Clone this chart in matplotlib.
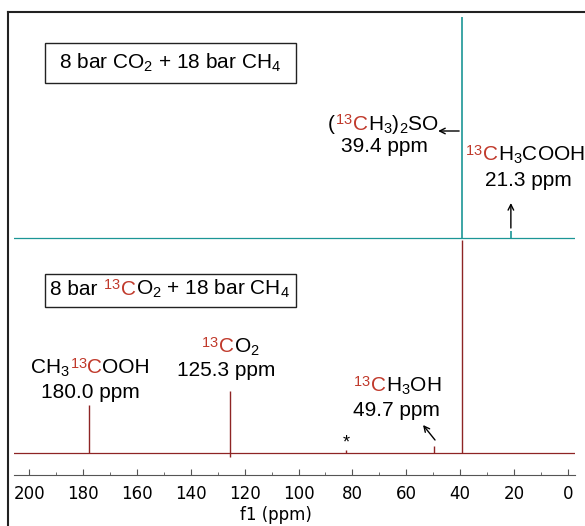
import matplotlib
matplotlib.use("Agg")
import matplotlib.pyplot as plt
import numpy as np
from matplotlib.lines import Line2D
from matplotlib.patches import Rectangle
from matplotlib.offsetbox import TextArea, HPacker, AnnotationBbox

plt.rcParams['mathtext.fontset'] = 'custom'
plt.rcParams['mathtext.rm'] = 'Liberation Sans'
plt.rcParams['mathtext.it'] = 'Liberation Sans'
plt.rcParams['mathtext.default'] = 'regular'

# data: peak positions (ppm) and heights (a.u.)
red_ppm = [177.8, 125.3, 82.4, 49.7, 39.3]
red_height = [48, 62, 3, 7, 213]
teal_ppm = [39.3, 21.2]
teal_height = [221, 7]
teal_offset = 215
ticks = [200, 180, 160, 140, 120, 100, 80, 60, 40, 20, 0]

teal = '#1b9696'
dred = '#8e2424'
tred = '#c0392b'
lab = 'Liberation Sans'

fig = plt.figure(figsize=(5.85, 5.26), dpi=100)
ax = fig.add_axes([14 / 585, 51 / 526, 561 / 585, 463 / 526])
ax.set_xlim(205.6, -2.6)
ax.set_ylim(-22, 441)

# spectra (baseline + sticks)
ax.axhline(0, color=dred, lw=0.9)
ax.vlines(red_ppm, 0, red_height, color=dred, lw=1.0)
ax.vlines(125.3, -4, 0, color=dred, lw=1.0)
ax.axhline(teal_offset, color=teal, lw=0.9)
ax.vlines(teal_ppm, teal_offset, np.array(teal_height) + teal_offset, color=teal, lw=1.2)

for s in ['left', 'right', 'top']:
    ax.spines[s].set_visible(False)
ax.spines['bottom'].set_color('#555555')
ax.set_yticks([])
ax.set_xticks(ticks)
ax.set_xticks(np.arange(190, 0, -20), minor=True)
ax.tick_params(axis='x', which='major', direction='in', length=4, color='#555555',
               pad=7, labelsize=12)
ax.tick_params(axis='x', which='minor', direction='in', length=2.5, color='#555555')
for t in ax.get_xticklabels():
    t.set_fontfamily('DejaVu Sans')
ax.set_xlabel('f1 (ppm)', fontsize=12, fontfamily='DejaVu Sans', labelpad=2)
ax.xaxis.set_label_coords(0.467, -0.068)

# frame lines
fig.add_artist(Line2D([8 / 585, 8 / 585], [0, 514 / 526], color='#222222', lw=1.5))
fig.add_artist(Line2D([8 / 585, 1], [514 / 526, 514 / 526], color='#222222', lw=1.5))


def rich(parts, xy, size=15):
    kids = [TextArea(s, textprops=dict(color=c, fontsize=size, fontfamily=lab))
            for s, c in parts]
    box = HPacker(children=kids, align='baseline', pad=0, sep=0)
    ab = AnnotationBbox(box, xy, xycoords='data', frameon=False, pad=0,
                        box_alignment=(0.5, 0.5), annotation_clip=False)
    ax.add_artist(ab)


K = 'black'
# condition boxes
fig.add_artist(Rectangle((45 / 100, (526 - 83) / 100), 2.51, 0.40, fill=False,
                         ec='#222222', lw=1.0, transform=fig.dpi_scale_trans))
fig.add_artist(Rectangle((45 / 100, (526 - 307) / 100), 2.51, 0.33, fill=False,
                         ec='#222222', lw=1.0, transform=fig.dpi_scale_trans))
rich([('8 bar CO$_2$ + 18 bar CH$_4$', K)], (147.7, 390))
rich([('8 bar ', K), ('$^{13}$', tred), ('C', tred), ('O$_2$ + 18 bar CH$_4$', K)], (147.7, 164))

# peak labels
rich([('(', K), ('$^{13}$', tred), ('C', tred), ('H$_3$)$_2$SO', K)], (68.6, 329))
rich([('39.4 ppm', K)], (68.3, 307))
rich([('$^{13}$', tred), ('C', tred), ('H$_3$COOH', K)], (15.9, 298))
rich([('21.3 ppm', K)], (14.8, 273))
rich([('CH$_3$', K), ('$^{13}$', tred), ('C', tred), ('OOH', K)], (177.4, 85))
rich([('180.0 ppm', K)], (177.4, 61))
rich([('$^{13}$', tred), ('C', tred), ('O$_2$', K)], (125.4, 106))
rich([('125.3 ppm', K)], (126.9, 83))
rich([('$^{13}$', tred), ('C', tred), ('H$_3$OH', K)], (63.5, 67))
rich([('49.7 ppm', K)], (63.8, 42))
ax.text(82.4, 10, '*', ha='center', va='center', fontsize=13, fontfamily=lab)

arr = dict(arrowstyle='->', color='black', lw=1.0, shrinkA=0, shrinkB=0)
ax.annotate('', xy=(48.2, 322), xytext=(40.4, 322), arrowprops=arr, annotation_clip=False)
ax.annotate('', xy=(21.2, 250), xytext=(21.2, 225), arrowprops=arr)
ax.annotate('', xy=(53.8, 28), xytext=(49.35, 13), arrowprops=arr)

fig.savefig('out.png', dpi=100)
